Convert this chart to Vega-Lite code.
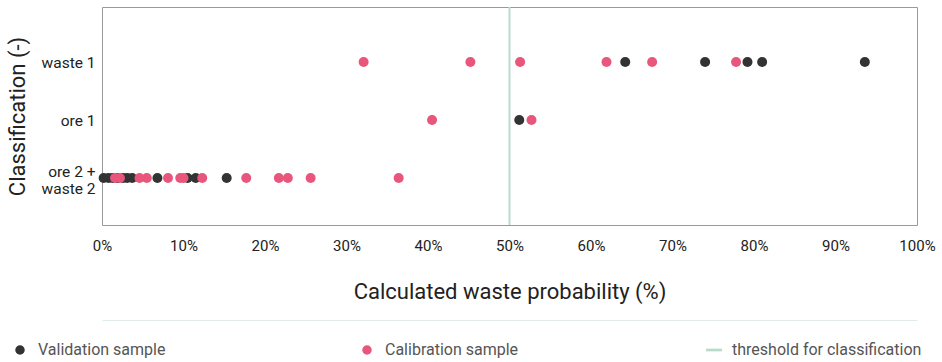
{
  "$schema": "https://vega.github.io/schema/vega-lite/v6.json",
  "autosize": "none",
  "width": 815,
  "height": 218,
  "padding": {"left": 102, "top": 7, "right": 25, "bottom": 137},
  "background": "white",
  "config": {
    "font": "Roboto",
    "view": {"stroke": "#999999", "strokeWidth": 1},
    "axis": {"labelFont": "Roboto", "titleFont": "Roboto", "labelColor": "#222222", "titleColor": "#222222", "titleFontWeight": "normal", "grid": false, "ticks": false}
  },
  "datasets": {
    "points": [
      {"prob": 0.2, "cls": 1, "series": "Validation sample"},
      {"prob": 0.8, "cls": 1, "series": "Validation sample"},
      {"prob": 1.3, "cls": 1, "series": "Validation sample"},
      {"prob": 1.9, "cls": 1, "series": "Validation sample"},
      {"prob": 2.6, "cls": 1, "series": "Validation sample"},
      {"prob": 3.1, "cls": 1, "series": "Validation sample"},
      {"prob": 3.7, "cls": 1, "series": "Validation sample"},
      {"prob": 6.8, "cls": 1, "series": "Validation sample"},
      {"prob": 10.5, "cls": 1, "series": "Validation sample"},
      {"prob": 11.5, "cls": 1, "series": "Validation sample"},
      {"prob": 15.3, "cls": 1, "series": "Validation sample"},
      {"prob": 51.2, "cls": 2, "series": "Validation sample"},
      {"prob": 64.2, "cls": 3, "series": "Validation sample"},
      {"prob": 74.0, "cls": 3, "series": "Validation sample"},
      {"prob": 79.2, "cls": 3, "series": "Validation sample"},
      {"prob": 81.0, "cls": 3, "series": "Validation sample"},
      {"prob": 93.6, "cls": 3, "series": "Validation sample"},
      {"prob": 1.6, "cls": 1, "series": "Calibration sample"},
      {"prob": 2.2, "cls": 1, "series": "Calibration sample"},
      {"prob": 4.6, "cls": 1, "series": "Calibration sample"},
      {"prob": 5.5, "cls": 1, "series": "Calibration sample"},
      {"prob": 8.1, "cls": 1, "series": "Calibration sample"},
      {"prob": 9.6, "cls": 1, "series": "Calibration sample"},
      {"prob": 10.0, "cls": 1, "series": "Calibration sample"},
      {"prob": 12.3, "cls": 1, "series": "Calibration sample"},
      {"prob": 17.7, "cls": 1, "series": "Calibration sample"},
      {"prob": 21.7, "cls": 1, "series": "Calibration sample"},
      {"prob": 22.8, "cls": 1, "series": "Calibration sample"},
      {"prob": 25.6, "cls": 1, "series": "Calibration sample"},
      {"prob": 36.4, "cls": 1, "series": "Calibration sample"},
      {"prob": 40.5, "cls": 2, "series": "Calibration sample"},
      {"prob": 52.7, "cls": 2, "series": "Calibration sample"},
      {"prob": 32.1, "cls": 3, "series": "Calibration sample"},
      {"prob": 45.2, "cls": 3, "series": "Calibration sample"},
      {"prob": 51.3, "cls": 3, "series": "Calibration sample"},
      {"prob": 61.9, "cls": 3, "series": "Calibration sample"},
      {"prob": 67.5, "cls": 3, "series": "Calibration sample"},
      {"prob": 77.8, "cls": 3, "series": "Calibration sample"}
    ],
    "threshold": [
      {"prob": 50, "series": "threshold for classification"}
    ]
  },
  "resolve": {"axis": {"x": "independent"}},
  "layer": [
    {
      "data": {"name": "threshold"},
      "mark": {"type": "rule", "strokeWidth": 2},
      "encoding": {
        "x": {"field": "prob", "type": "quantitative", "scale": {"domain": [0, 100], "nice": false},
          "axis": {"orient": "bottom", "offset": 95, "labels": false, "ticks": false, "title": null, "domainColor": "#dfece7", "domainWidth": 1}},
        "color": {"field": "series", "type": "nominal"}
      }
    },
    {
      "data": {"name": "points"},
      "mark": {"type": "point", "filled": true, "opacity": 1, "size": 100},
      "encoding": {
        "x": {"field": "prob", "type": "quantitative",
          "scale": {"domain": [0, 100], "nice": false},
          "axis": {"orient": "bottom", "values": [0,10,20,30,40,50,60,70,80,90,100], "labelExpr": "datum.value + '%'", "labelFlush": false, "labelOverlap": false, "labelFontSize": 15, "labelPadding": 13, "title": "Calculated waste probability (%)", "titleFontSize": 22, "titlePadding": 28, "domain": false}},
        "y": {"field": "cls", "type": "quantitative",
          "scale": {"domain": [0.19, 3.95], "nice": false, "zero": false},
          "axis": {"values": [1, 2, 3], "labelExpr": "datum.value == 3 ? 'waste 1' : datum.value == 2 ? 'ore 1' : ['ore 2 +', 'waste 2']", "labelOffset": {"condition": {"test": "datum.value == 1", "value": -7}, "value": 0}, "labelLineHeight": 17, "labelFontSize": 15.5, "labelPadding": 7, "title": "Classification (-)", "titleFontSize": 22, "titlePadding": 12, "domain": false}},
        "color": {"field": "series", "type": "nominal",
          "scale": {"domain": ["Validation sample", "Calibration sample", "threshold for classification"], "range": ["#333333", "#e8567c", "#b8dccc"]},
          "legend": {"title": null, "orient": "none", "legendX": -90, "legendY": 335, "direction": "horizontal", "columns": 3, "gridAlign": "all", "columnPadding": 128, "symbolSize": 64, "labelFontSize": 16, "labelColor": "#555555", "labelFont": "Roboto", "labelOffset": 10, "labelLimit": 400}},
        "shape": {"field": "series", "type": "nominal",
          "scale": {"domain": ["Validation sample", "Calibration sample", "threshold for classification"], "range": ["circle", "circle", "M-1.8,-0.15H1.8V0.15H-1.8Z"]},
          "legend": {"title": null, "orient": "none", "legendX": -90, "legendY": 335, "direction": "horizontal", "columns": 3, "gridAlign": "all", "columnPadding": 128, "symbolSize": 64, "labelFontSize": 16, "labelColor": "#555555", "labelFont": "Roboto", "labelOffset": 10, "labelLimit": 400}}
      }
    }
  ]
}
